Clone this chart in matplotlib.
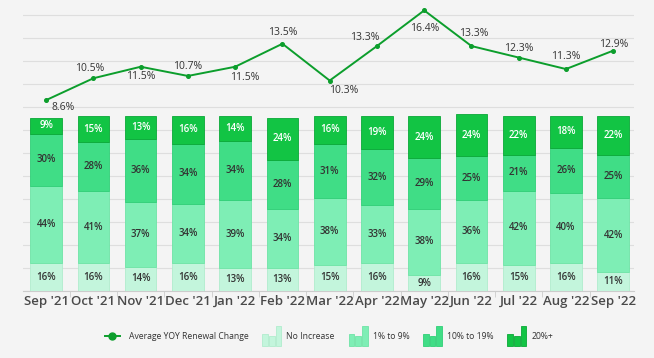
import numpy as np
import matplotlib
matplotlib.use("Agg")
import matplotlib.pyplot as plt
from matplotlib.legend_handler import HandlerBase
from matplotlib.patches import Rectangle
from matplotlib.lines import Line2D

months = ["Sep '21", "Oct '21", "Nov '21", "Dec '21", "Jan '22", "Feb '22", "Mar '22",
          "Apr '22", "May '22", "Jun '22", "Jul '22", "Aug '22", "Sep '22"]
no_increase = [16, 16, 14, 16, 13, 13, 15, 16, 9, 16, 15, 16, 11]
pct_1_9 = [44, 41, 37, 34, 39, 34, 38, 33, 38, 36, 42, 40, 42]
pct_10_19 = [30, 28, 36, 34, 34, 28, 31, 32, 29, 25, 21, 26, 25]
pct_20_plus = [9, 15, 13, 16, 14, 24, 16, 19, 24, 24, 22, 18, 22]
avg_yoy = [8.6, 10.5, 11.5, 10.7, 11.5, 13.5, 10.3, 13.3, 16.4, 13.3, 12.3, 11.3, 12.9]
series_names = ["No Increase", "1% to 9%", "10% to 19%", "20%+"]
line_name = "Average YOY Renewal Change"

# style
face = ["#c3f5dc", "#7eeeb5", "#40dd86", "#12c444"]
edge = ["#b0eccd", "#6ee4a6", "#30cf77", "#0aa837"]
txtc = ["#333333", "#333333", "#333333", "#ffffff"]
line_col = "#0c9e2c"
bg = "#f4f4f4"
# label offsets (points) for line labels
offs = [(12, -5), (-3, 7), (0, -7), (0, 6.5), (7, -8), (0, 8), (10, -7.5),
        (-9, 6.5), (0, -13), (1.5, 9), (0, 6.5), (0, 9), (0, 4.5)]

plt.rcParams['font.family'] = ['Open Sans', 'DejaVu Sans']

fig = plt.figure(figsize=(6.54, 3.58), dpi=100, facecolor=bg)
L, R, B, T = 23 / 654, 634 / 654, (358 - 291) / 358, (358 - 5) / 358
ax = fig.add_axes([L, B, R - L, T - B])
ax.set_facecolor(bg)
x = np.arange(len(months))

# line axis (with grid)
ax.set_ylim(-8, -8 + 286 / 11.5)
ax.set_yticks(np.arange(-8, 17, 2))
ax.yaxis.grid(True, color="#dedede", linewidth=0.8)
ax.set_axisbelow(True)
ax.plot(x, avg_yoy, color=line_col, linewidth=1.4, marker='o', markersize=2.6, zorder=5)
for xi, v, (dx, dy) in zip(x, avg_yoy, offs):
    ax.annotate(f"{v}%", (xi, v), xytext=(dx, dy), textcoords="offset points",
                ha='center', va='center', fontsize=7.5, color="#333333", zorder=6)

# bar axis
axb = ax.twinx()
axb.set_ylim(0, 286 / 1.75)
ax.tick_params(axis='y', left=False, right=False, labelleft=False, labelright=False)
axb.tick_params(axis='y', left=False, right=False, labelleft=False, labelright=False)
bottom = np.zeros(len(months))
data = [no_increase, pct_1_9, pct_10_19, pct_20_plus]
for vals, fc, ec, tc in zip(data, face, edge, txtc):
    vals = np.array(vals, dtype=float)
    axb.bar(x, vals, bottom=bottom, width=0.67, color=fc, edgecolor=ec, linewidth=0.6)
    for xi, b, v in zip(x, bottom, vals):
        axb.text(xi, b + v / 2, f"{int(v)}%", ha='center', va='center', fontsize=7,
                 fontweight='semibold', color=tc)
    bottom += vals

for a in (ax, axb):
    for s in a.spines.values():
        s.set_visible(False)
ax.spines['bottom'].set_visible(True)
ax.spines['bottom'].set_color("#cccccc")
ax.set_xlim(-0.49, len(months) - 1 + 0.44)
ax.set_xticks(x)
ax.set_xticklabels(months, fontsize=9.5, color="#4a4a4a", fontweight='semibold')
ax.set_xticks(x[:-1] + 0.5, minor=True)
ax.tick_params(axis='x', which='major', length=0, pad=3)
ax.tick_params(axis='x', which='minor', length=4, color="#cccccc")


class BarsHandler(HandlerBase):
    def __init__(self, fc, ec):
        super().__init__()
        self.fc, self.ec = fc, ec

    def create_artists(self, legend, orig_handle, xdescent, ydescent, width, height, fontsize, trans):
        arts = []
        gap = width * 0.06
        bw = (width - 2 * gap) / 3
        hs = [0.62, 0.5, 1.0]
        H = height * 2.0
        y0 = -ydescent + height / 2 - H / 2
        for i, h in enumerate(hs):
            r = Rectangle((-xdescent + i * (bw + gap), y0), bw, H * h,
                          facecolor=self.fc, edgecolor=self.ec, linewidth=0.6, transform=trans)
            arts.append(r)
        return arts


class LineHandler(HandlerBase):
    def create_artists(self, legend, orig_handle, xdescent, ydescent, width, height, fontsize, trans):
        y = -ydescent + height / 2
        w = width * 0.8
        ln = Line2D([-xdescent, -xdescent + w], [y, y], color=line_col, linewidth=1.4, transform=trans)
        mk = Line2D([-xdescent + w / 2], [y], marker='o', markersize=5, color=line_col,
                    linestyle='none', transform=trans)
        return [ln, mk]


h_line = Line2D([], [])
h_bars = [Rectangle((0, 0), 1, 1) for _ in range(4)]
hmap = {h_line: LineHandler()}
for h, fc, ec in zip(h_bars, face, edge):
    hmap[h] = BarsHandler(fc, ec)

leg = fig.legend([h_line] + h_bars, [line_name] + series_names, handler_map=hmap,
                 loc='center', bbox_to_anchor=(329 / 654, 1 - 336 / 358), ncol=5,
                 frameon=False, fontsize=6.2, handlelength=2.2, handleheight=1.4,
                 handletextpad=0.6, columnspacing=1.6, borderaxespad=0)
for t in leg.get_texts():
    t.set_color("#333333")

fig.savefig("out.png", dpi=100, facecolor=bg)
